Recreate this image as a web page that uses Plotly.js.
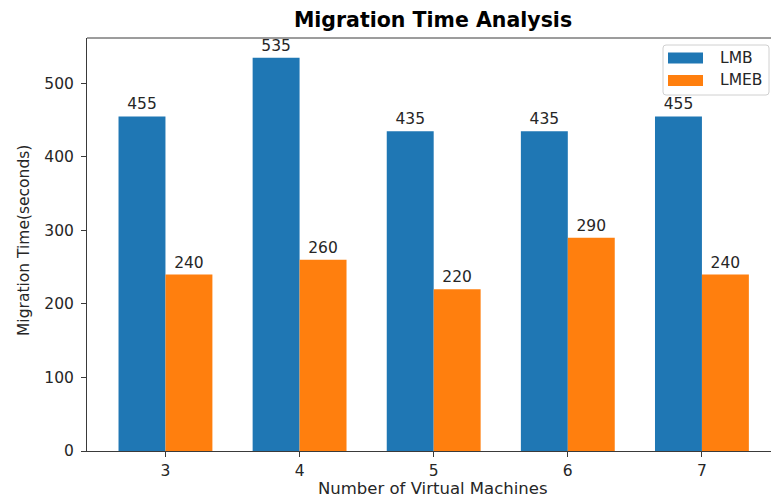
<!DOCTYPE html>
<html>
<head>
<meta charset="utf-8">
<script src="https://cdn.plot.ly/plotly-3.0.1.min.js"></script>
<style>html,body{margin:0;padding:0;background:#fff;}#chart{width:771px;height:499px;}</style>
</head>
<body>
<div id="chart"></div>
<script>
const vms = [3, 4, 5, 6, 7];
const lmb = [455, 535, 435, 435, 455];
const lmeb = [240, 260, 220, 290, 240];
const seriesNames = ['LMB', 'LMEB'];
const seriesColors = ['#1f77b4', '#ff7f0e'];

const font = 'DejaVu Sans, sans-serif';
const txt = '#262626';
const W = 771, H = 499, ML = 87, MR = 0, MT = 38, MB = 48;
const pw = W - ML - MR, ph = H - MT - MB;
const px = v => (v - ML) / pw;          // pixel -> paper x
const py = v => (H - MB - v) / ph;      // pixel -> paper y

const traces = [lmb, lmeb].map((vals, i) => ({
  type: 'bar', name: seriesNames[i], x: vms, y: vals, text: vals.map(String),
  textposition: 'outside', cliponaxis: false,
  textfont: {family: font, size: 15.5, color: txt},
  marker: {color: seriesColors[i], line: {width: 0}}, showlegend: false
}));

// legend drawn as layout shapes + annotations (wide matplotlib-style patches)
const lgX0 = 663, lgX1 = 769, lgY0 = 45, lgY1 = 95, r = 3;
const legendPath = `M ${px(lgX0 + r)} ${py(lgY0)} L ${px(lgX1 - r)} ${py(lgY0)} Q ${px(lgX1)} ${py(lgY0)} ${px(lgX1)} ${py(lgY0 + r)} ` +
  `L ${px(lgX1)} ${py(lgY1 - r)} Q ${px(lgX1)} ${py(lgY1)} ${px(lgX1 - r)} ${py(lgY1)} L ${px(lgX0 + r)} ${py(lgY1)} ` +
  `Q ${px(lgX0)} ${py(lgY1)} ${px(lgX0)} ${py(lgY1 - r)} L ${px(lgX0)} ${py(lgY0 + r)} Q ${px(lgX0)} ${py(lgY0)} ${px(lgX0 + r)} ${py(lgY0)} Z`;
const rowY = [58, 80.5];
const shapes = [
  {type: 'line', xref: 'paper', yref: 'paper', x0: 0, x1: 1, y0: 1, y1: 1, line: {color: '#3a3a3a', width: 1}},
  {type: 'path', xref: 'paper', yref: 'paper', path: legendPath, fillcolor: 'rgba(255,255,255,0.85)', line: {color: '#d0d0d0', width: 1}}
];
const annotations = [
  {text: 'Number of Virtual Machines', xref: 'paper', yref: 'paper', x: px(433), y: py(488), xanchor: 'center', yanchor: 'middle',
   showarrow: false, font: {family: font, size: 16.5, color: txt}},
  {text: 'Migration Time(seconds)', xref: 'paper', yref: 'paper', x: px(24), y: py(241), xanchor: 'center', yanchor: 'middle',
   textangle: -90, showarrow: false, font: {family: font, size: 15.5, color: txt}}
];
seriesNames.forEach((n, i) => {
  shapes.push({type: 'rect', xref: 'paper', yref: 'paper', x0: px(668), x1: px(703), y0: py(rowY[i] - 5.5), y1: py(rowY[i] + 5.5),
               fillcolor: seriesColors[i], line: {width: 0}});
  annotations.push({text: n, xref: 'paper', yref: 'paper', x: px(718), y: py(rowY[i]), xanchor: 'left', yanchor: 'middle',
                    showarrow: false, font: {family: font, size: 15.5, color: txt}});
});

const layout = {
  width: W, height: H,
  margin: {l: ML, r: MR, t: MT, b: MB, pad: 0},
  paper_bgcolor: '#fff', plot_bgcolor: '#fff',
  font: {family: font, color: txt},
  barmode: 'group', bargap: 0.3, bargroupgap: 0,
  title: {text: '<b>Migration Time Analysis</b>', font: {family: font, size: 20.5, color: '#000'},
          x: px(433), xref: 'paper', xanchor: 'center', y: 1 - 20 / H, yref: 'container', yanchor: 'middle'},
  xaxis: {range: [2.415, 7.515], tickvals: vms, ticktext: vms.map(String),
          showgrid: false, zeroline: false, showline: true, linecolor: '#3a3a3a', linewidth: 1,
          ticks: 'outside', ticklen: 5, tickcolor: '#3a3a3a', tickfont: {family: font, size: 15.5, color: txt}},
  yaxis: {range: [0, 561.75], tickvals: [0, 100, 200, 300, 400, 500],
          showgrid: false, zeroline: false, showline: true, linecolor: '#3a3a3a', linewidth: 1,
          ticks: 'outside', ticklen: 5, tickcolor: '#3a3a3a', ticklabelstandoff: 4,
          tickfont: {family: font, size: 15.5, color: txt}},
  shapes: shapes,
  annotations: annotations,
  showlegend: false
};

Plotly.newPlot('chart', traces, layout, {displayModeBar: false, staticPlot: true});
</script>
</body>
</html>
